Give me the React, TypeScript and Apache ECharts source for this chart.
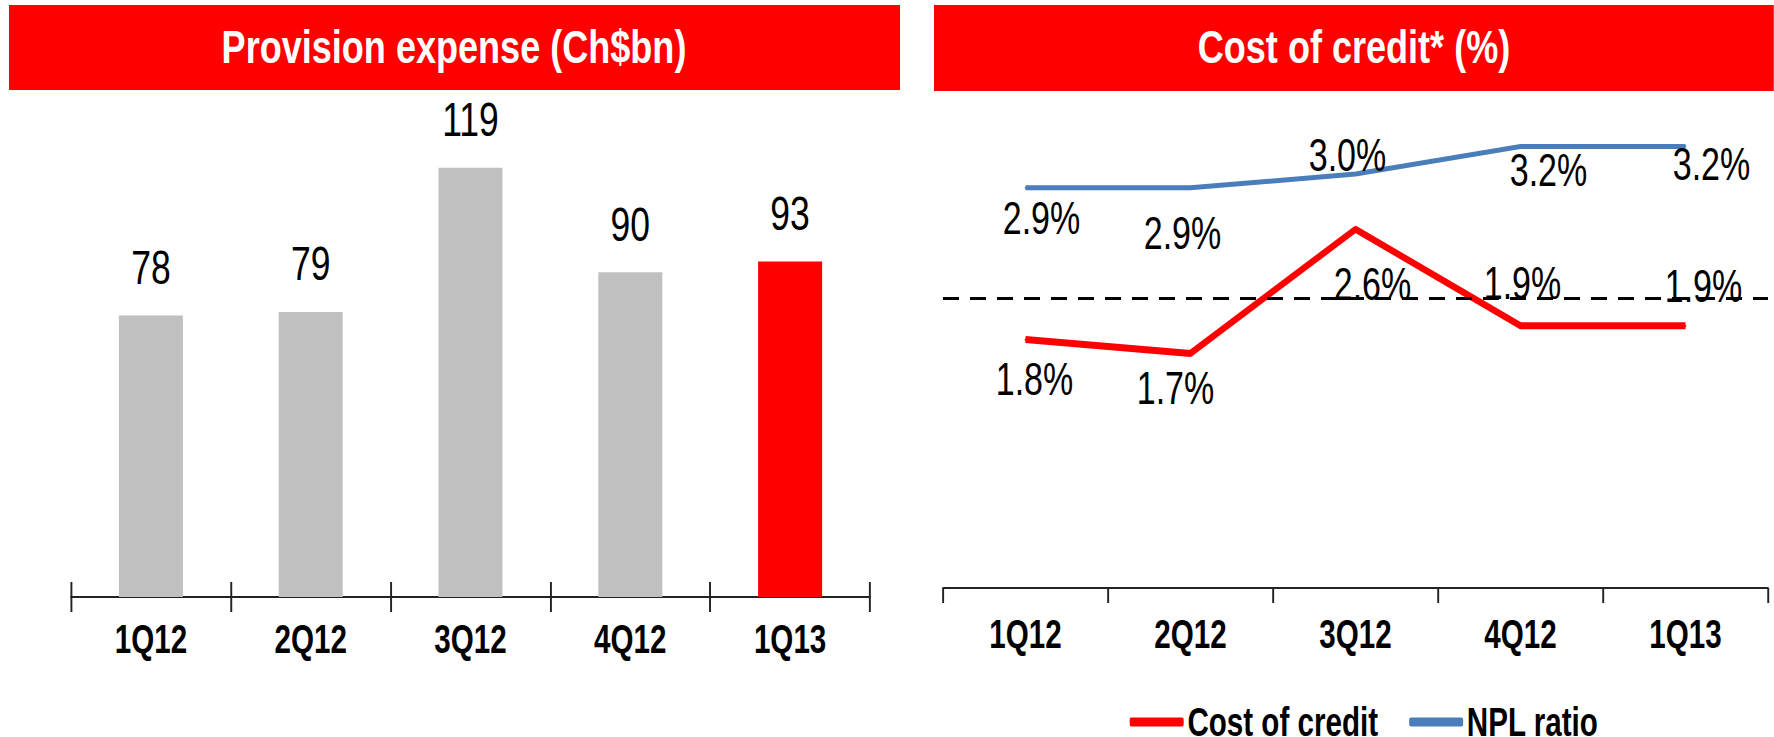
import React, { useEffect, useRef } from "react";
import * as echarts from "echarts";

const categories = ["1Q12", "2Q12", "3Q12", "4Q12", "1Q13"];
const provisionExpense = [78, 79, 119, 90, 93];
const costOfCredit = [1.8, 1.7, 2.6, 1.9, 1.9];
const nplRatio = [2.9, 2.9, 3.0, 3.2, 3.2];
const referenceLevel = 2.1;
const leftTitle = "Provision expense (Ch$bn)";
const rightTitle = "Cost of credit* (%)";
const seriesNames = ["Cost of credit", "NPL ratio"];
const highlightIndex = 4;

const FONT = "'Liberation Sans Narrow', 'Arial Narrow', 'Liberation Sans', Arial, sans-serif";
const RED = "#FF0000";
const BLUE = "#4A7EBB";
const GRAY = "#C0C0C0";

// The source uses a condensed face; the chart is drawn wider and squeezed horizontally.
const W = 1774;
const H = 737;
const S = 0.74;
const sx = (x: number) => x / S;

// label placement (style), offsets from the point in screen px
const costLabelOffsets = [[9, 39], [-15, 35], [17, 55], [2, -43], [18, -40]];
const nplLabelOffsets = [[16, 30], [-8, 45], [-8, -19], [28, 24], [26, 18]];

export default function App() {
  const ref = useRef<HTMLDivElement>(null);
  useEffect(() => {
    if (!ref.current) return;
    const chart = echarts.init(ref.current, undefined, { renderer: "svg" });
    const axisLineStyle = { color: "#222", width: 2 };
    const tickStyle = { color: "#222", width: 2.6 };
    const axisLabel = {
      fontSize: 40,
      color: "#000",
      fontFamily: FONT,
      fontWeight: "bold" as const,
    };
    const pctFormatter = (p: any) => Number(p.value).toFixed(1) + "%";
    const titleStyle = (text: string) => ({
      text,
      fill: "#fff",
      fontSize: 47,
      fontWeight: "bold",
      fontFamily: FONT,
      align: "center",
      verticalAlign: "middle",
    });
    const titleScale = (0.82 * 44) / 47 / S;
    const option: any = {
      animation: false,
      backgroundColor: "#fff",
      grid: [
        { left: sx(71), width: sx(799), top: 128, bottom: 140 },
        { left: sx(71), width: sx(799), top: 128, bottom: 140 },
        { left: sx(943), width: sx(825), top: 105, bottom: 149 },
      ],
      xAxis: [
        {
          gridIndex: 0,
          type: "category",
          data: categories,
          axisLine: { show: true, lineStyle: axisLineStyle },
          axisTick: { show: true, length: 15, lineStyle: tickStyle },
          axisLabel: { ...axisLabel, margin: 22 },
        },
        {
          gridIndex: 1,
          type: "category",
          data: categories,
          axisLine: { show: false },
          axisTick: { show: true, inside: true, length: 15, lineStyle: tickStyle },
          axisLabel: { show: false },
        },
        {
          gridIndex: 2,
          type: "category",
          data: categories,
          axisLine: { show: true, lineStyle: axisLineStyle },
          axisTick: { show: true, length: 15, lineStyle: tickStyle },
          axisLabel: { ...axisLabel, margin: 26 },
        },
      ],
      yAxis: [
        { gridIndex: 0, type: "value", min: 0, max: 130, show: false },
        { gridIndex: 1, type: "value", min: 0, max: 130, show: false },
        { gridIndex: 2, type: "value", min: 0, max: 3.5, show: false },
      ],
      legend: {
        data: seriesNames,
        left: sx(1126),
        top: 697,
        itemWidth: sx(54),
        itemHeight: 9,
        itemGap: sx(31),
        icon: "roundRect",
        textStyle: { fontSize: 40, fontWeight: "bold", fontFamily: FONT, color: "#000" },
      },
      graphic: [
        { type: "rect", shape: { x: sx(9), y: 5, width: sx(891), height: 85 }, style: { fill: RED } },
        { type: "rect", shape: { x: sx(934), y: 5, width: sx(840), height: 86 }, style: { fill: RED } },
        { type: "text", x: sx(454), y: 47, scaleX: titleScale, style: titleStyle(leftTitle) },
        { type: "text", x: sx(1354), y: 47, scaleX: titleScale, style: titleStyle(rightTitle) },
      ],
      series: [
        {
          type: "bar",
          xAxisIndex: 0,
          yAxisIndex: 0,
          barWidth: sx(64),
          data: provisionExpense.map((v, i) => ({
            value: v,
            itemStyle: { color: i === highlightIndex ? RED : GRAY },
          })),
          label: {
            show: true,
            position: "top",
            distance: 24,
            fontSize: 48,
            fontFamily: FONT,
            color: "#000",
          },
        },
        {
          name: seriesNames[0],
          type: "line",
          xAxisIndex: 2,
          yAxisIndex: 2,
          symbol: "circle",
          symbolSize: 2,
          itemStyle: { color: RED },
          lineStyle: { color: RED, width: 7 },
          data: costOfCredit.map((v, i) => ({
            value: v,
            label: { offset: [sx(costLabelOffsets[i][0]), costLabelOffsets[i][1]] },
          })),
          label: {
            show: true,
            position: "inside",
            formatter: pctFormatter,
            fontSize: 46,
            fontFamily: FONT,
            color: "#000",
          },
          markLine: {
            silent: true,
            symbol: "none",
            label: { show: false },
            lineStyle: { type: [sx(16), sx(11)], color: "#000", width: 3 },
            data: [{ yAxis: referenceLevel }],
          },
        },
        {
          name: seriesNames[1],
          type: "line",
          xAxisIndex: 2,
          yAxisIndex: 2,
          symbol: "circle",
          symbolSize: 2,
          itemStyle: { color: BLUE },
          lineStyle: { color: BLUE, width: 5 },
          data: nplRatio.map((v, i) => ({
            value: v,
            label: { offset: [sx(nplLabelOffsets[i][0]), nplLabelOffsets[i][1]] },
          })),
          label: {
            show: true,
            position: "inside",
            formatter: pctFormatter,
            fontSize: 46,
            fontFamily: FONT,
            color: "#000",
          },
        },
      ],
    };
    chart.setOption(option);
    return () => chart.dispose();
  }, []);
  return (
    <div style={{ position: "fixed", left: 0, top: 0, width: W, height: H, overflow: "hidden", background: "#fff" }}>
      <div
        ref={ref}
        style={{
          width: sx(W),
          height: H,
          transform: `scaleX(${S})`,
          transformOrigin: "0 0",
        }}
      />
    </div>
  );
}
